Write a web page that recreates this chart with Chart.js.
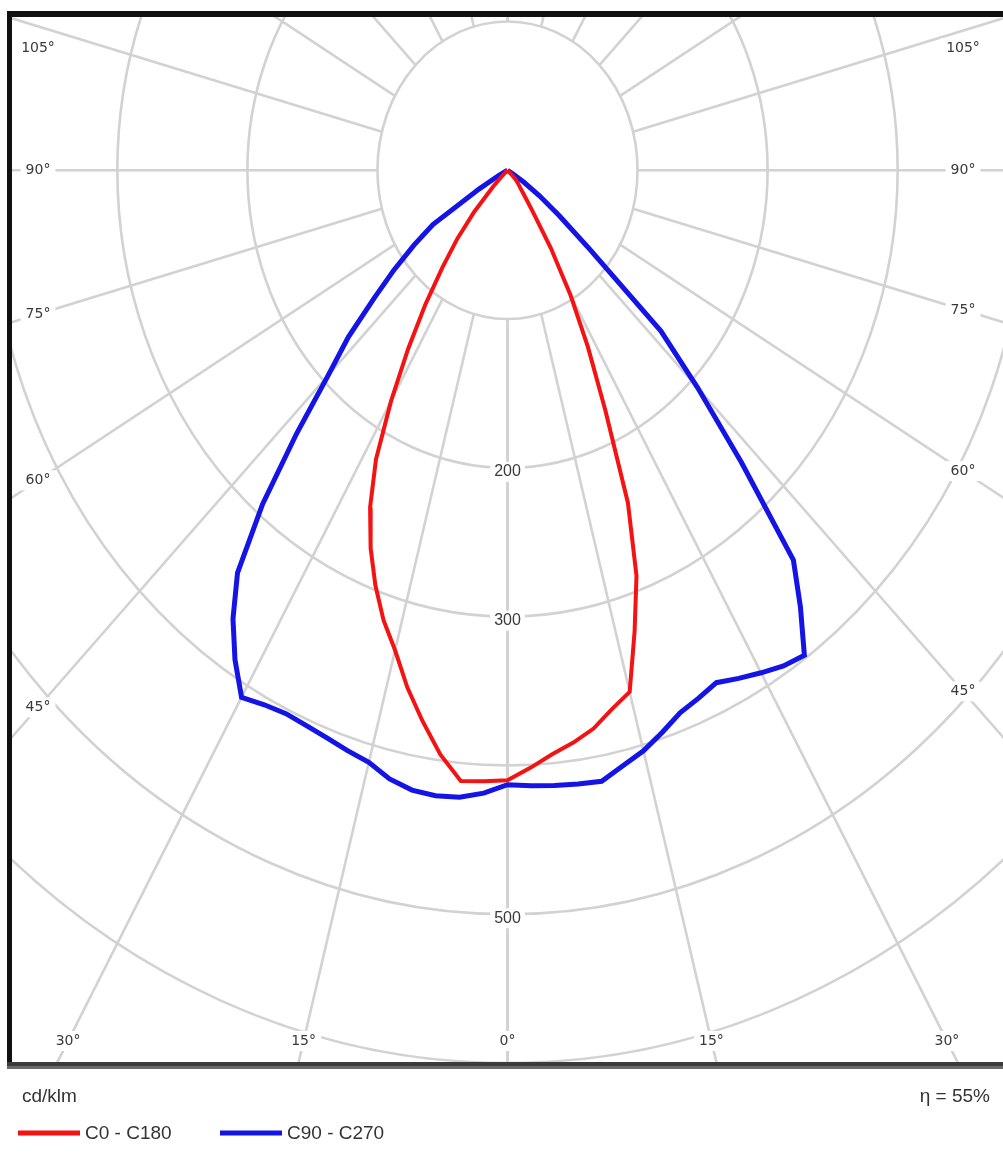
<!DOCTYPE html>
<html>
<head>
<meta charset="utf-8">
<script src="https://cdn.jsdelivr.net/npm/chart.js@4/dist/chart.umd.min.js"></script>
<style>
  body { margin: 0; background: #fff; }
  canvas { display: block; }
</style>
</head>
<body>
<canvas id="myChart" width="1003" height="1153"></canvas>
<script>
// gamma angles (deg from nadir), intensities in cd/klm
const gamma = [0, 2.5, 5, 7.5, 10, 12.5, 15, 17.5, 20, 22.5, 25, 27.5, 30, 32.5, 35, 37.5, 40, 42.5, 45, 47.5, 50, 52.5, 55, 57.5, 60, 62.5, 65];
const c0   = [411, 402, 394, 388, 381, 371, 363, 325, 290, 242, 178, 134, 97, 62, 33, 21, 15, 12, 9, 4, 0, 0, 0, 0, 0, 0, 0];
const c180 = [410, 411, 412, 396, 376, 356, 334, 317, 297, 275, 250, 219, 179, 142, 110, 82, 60, 38, 16, 5, 0, 0, 0, 0, 0, 0, 0];
const c90  = [413, 414, 415, 416, 417, 410, 404, 396, 388, 384, 380, 385, 390, 395, 398, 370, 342, 266, 207, 160, 82, 50, 30, 15, 5, 0, 0];
const c270 = [413, 419, 423, 424, 423, 419, 412, 409, 406, 404, 403, 405, 409, 390, 368, 341, 293, 240, 195, 166, 134, 110, 88, 68, 25, 8, 0];

const rings = [100, 200, 300, 400, 500, 600];
const ringLabels = [200, 300, 500];
const angleLabels = [0, 15, 30, 45, 60, 75, 90, 105];
const unitText = 'cd/klm';
const etaText = 'η = 55%';

const rad = d => d * Math.PI / 180;

// left half (C180 / C270) on the left, right half (C0 / C90) on the right
function curve(left, right) {
  const pts = [];
  for (let i = gamma.length - 1; i >= 0; i--) {
    pts.push({x: -left[i] * Math.sin(rad(gamma[i])), y: -left[i] * Math.cos(rad(gamma[i]))});
  }
  for (let i = 1; i < gamma.length; i++) {
    pts.push({x: right[i] * Math.sin(rad(gamma[i])), y: -right[i] * Math.cos(rad(gamma[i]))});
  }
  return pts;
}

const polarGrid = {
  id: 'polarGrid',
  beforeDatasetsDraw(chart) {
    const {ctx, chartArea: a, scales: {x, y}} = chart;
    const cx = x.getPixelForValue(0), cy = y.getPixelForValue(0);
    const px = (r, g, s) => [x.getPixelForValue(s * r * Math.sin(rad(g))), y.getPixelForValue(-r * Math.cos(rad(g)))];
    ctx.save();
    ctx.beginPath();
    ctx.rect(a.left, a.top, a.right - a.left, a.bottom - a.top);
    ctx.clip();
    ctx.strokeStyle = '#d2d2d2';
    ctx.lineWidth = 2.6;
    // radial lines every 15 deg, starting at the first ring
    for (let g = 0; g <= 180; g += 15) {
      for (const s of [-1, 1]) {
        const p0 = px(rings[0], g, s), p1 = px(1200, g, s);
        ctx.beginPath();
        ctx.moveTo(p0[0], p0[1]);
        ctx.lineTo(p1[0], p1[1]);
        ctx.stroke();
      }
    }
    rings.forEach(r => {
      ctx.beginPath();
      ctx.ellipse(cx, cy, x.getPixelForValue(r) - cx, y.getPixelForValue(-r) - cy, 0, 0, Math.PI * 2);
      ctx.stroke();
    });

    ctx.textAlign = 'center';
    ctx.textBaseline = 'middle';
    // ring labels
    ctx.font = '16px "Liberation Sans"';
    ringLabels.forEach(r => {
      const ty = y.getPixelForValue(-r) + 4;
      const w = ctx.measureText(String(r)).width;
      ctx.fillStyle = '#fff';
      ctx.fillRect(cx - w / 2 - 4, ty - 10, w + 8, 20);
      ctx.fillStyle = '#3a3a3a';
      ctx.fillText(String(r), cx, ty);
    });
    // angle labels where the radial lines meet the frame
    ctx.font = '14px "DejaVu Sans"';
    const ux = x.getPixelForValue(1) - cx, uy = y.getPixelForValue(-1) - cy;
    const xl = a.left + 26, xr = a.right - 40, yb = a.bottom - 22, yt = a.top + 31;
    angleLabels.forEach(g => {
      for (const s of (g === 0 ? [1] : [-1, 1])) {
        const dx = s * Math.sin(rad(g)) * ux, dy = Math.cos(rad(g)) * uy;
        let lx, ly;
        if (dx !== 0) {
          const t = ((dx < 0 ? xl : xr) - cx) / dx;
          lx = cx + dx * t;
          ly = cy + dy * t;
        }
        if (dx === 0 || ly > yb) {
          const t = (yb - cy) / dy;
          lx = cx + dx * t;
          ly = yb;
        }
        ly = Math.max(yt, ly);
        const txt = g + '°';
        const w = ctx.measureText(txt).width;
        ctx.fillStyle = '#fff';
        ctx.fillRect(lx - w / 2 - 5, ly - 10, w + 10, 20);
        ctx.fillStyle = '#3a3a3a';
        ctx.fillText(txt, lx, ly);
      }
    });
    ctx.restore();
  },
  afterDraw(chart) {
    const {ctx, chartArea: a} = chart;
    ctx.save();
    // frame
    ctx.fillStyle = '#111';
    ctx.fillRect(a.left - 5, a.top - 6, a.right - a.left + 5, 6);
    ctx.fillRect(a.left - 5, a.top - 6, 5, a.bottom - a.top + 12);
    ctx.fillStyle = '#3c3c3c';
    ctx.fillRect(a.left - 5, a.bottom - 1, a.right - a.left + 5, 4);
    ctx.fillStyle = '#6a6a6a';
    ctx.fillRect(a.left - 5, a.bottom + 3, a.right - a.left + 5, 3);
    // unit, efficiency and legend
    ctx.fillStyle = '#333';
    ctx.font = '19px "Liberation Sans"';
    ctx.textBaseline = 'middle';
    ctx.textAlign = 'left';
    ctx.fillText(unitText, 22, 1097);
    ctx.textAlign = 'right';
    ctx.fillText(etaText, 990, 1097);
    ctx.textAlign = 'left';
    chart.data.datasets.forEach((ds, i) => {
      const x0 = [18, 220][i];
      ctx.strokeStyle = ds.borderColor;
      ctx.lineWidth = 5;
      ctx.beginPath();
      ctx.moveTo(x0, 1133);
      ctx.lineTo(x0 + 62, 1133);
      ctx.stroke();
      ctx.fillStyle = '#333';
      ctx.fillText(ds.label, x0 + 67, 1134);
    });
    ctx.restore();
  }
};

new Chart(document.getElementById('myChart'), {
  type: 'scatter',
  data: {
    datasets: [
      {label: 'C0 - C180', data: curve(c180, c0), borderColor: '#f51212', borderWidth: 4, showLine: true, pointRadius: 0, tension: 0},
      {label: 'C90 - C270', data: curve(c270, c90), borderColor: '#1414e6', borderWidth: 5, showLine: true, pointRadius: 0, tension: 0}
    ]
  },
  options: {
    responsive: false,
    animation: false,
    layout: {padding: {left: 12, top: 17, right: 0, bottom: 90}},
    scales: {
      x: {type: 'linear', min: -381, max: 381, display: false},
      y: {type: 'linear', min: -600, max: 103, display: false}
    },
    plugins: {legend: {display: false}, tooltip: {enabled: false}}
  },
  plugins: [polarGrid]
});
</script>
</body>
</html>
